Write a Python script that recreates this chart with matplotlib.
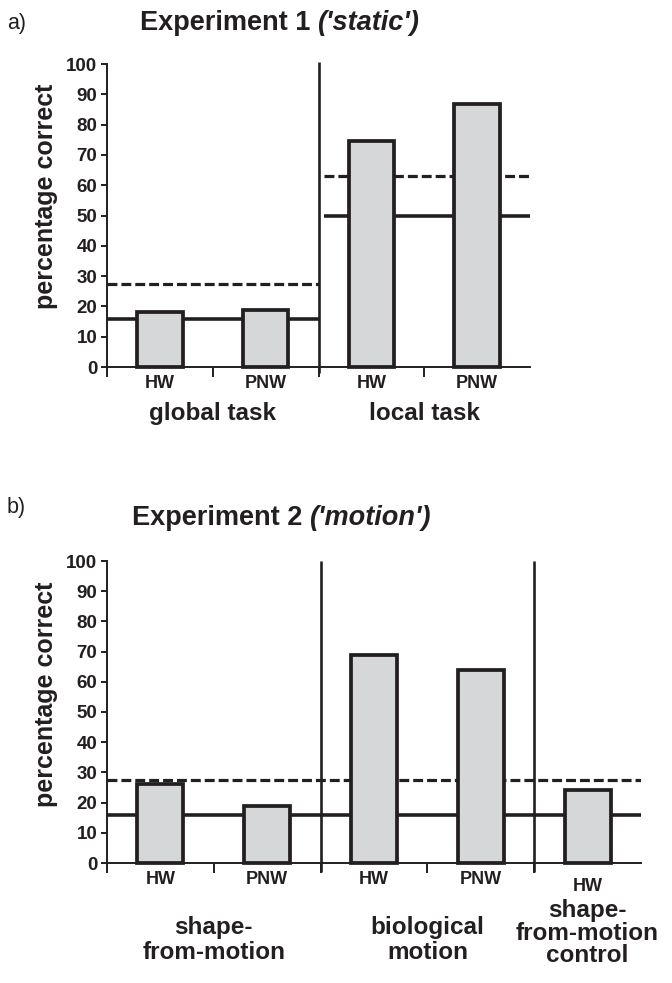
import matplotlib
matplotlib.use("Agg")
import matplotlib.pyplot as plt
import matplotlib.transforms as mtransforms

plt.rcParams['font.family'] = ['Liberation Sans', 'DejaVu Sans']

# Experiment 1 ('static')
exp1_cats = ["HW", "PNW", "HW", "PNW"]
exp1_vals = [18.2, 18.7, 74.5, 86.8]
exp1_groups = ["global task", "local task"]
exp1_group_sizes = [2, 2]
exp1_chance = [16, 50]
exp1_signif = [27.5, 63]

# Experiment 2 ('motion')
exp2_cats = ["HW", "PNW", "HW", "PNW", "HW"]
exp2_vals = [26.2, 19.0, 69.0, 63.8, 24.2]
exp2_groups = ["shape-\nfrom-motion", "biological\nmotion", "shape-\nfrom-motion\ncontrol"]
exp2_group_sizes = [2, 2, 1]
exp2_chance = 16
exp2_signif = 27.5

yticks = list(range(0, 101, 10))

INK = "#231f20"
FILL = "#d5d7d9"
BAR_W = 0.43

W, H = 672, 983
fig = plt.figure(figsize=(W / 100, H / 100), dpi=100)


def px_axes(left, top, right, bottom):
    return fig.add_axes([left / W, 1 - bottom / H, (right - left) / W, (bottom - top) / H])


def base_axes(ax, ncat):
    ax.set_xlim(0, ncat)
    ax.set_ylim(0, 100)
    for s in ["top", "right"]:
        ax.spines[s].set_visible(False)
    for s in ["left", "bottom"]:
        ax.spines[s].set_linewidth(1.4)
        ax.spines[s].set_color(INK)
    ax.set_yticks(yticks)
    ax.set_yticklabels([str(t) for t in yticks], fontsize=13.5, fontweight="bold", color=INK)
    ax.tick_params(axis="y", length=4, width=1.4, color=INK, pad=3)
    ax.set_xticks(range(ncat))
    ax.set_xticklabels([])
    ax.tick_params(axis="x", length=7, width=1.4, color=INK, direction="out")
    ax.patch.set_alpha(0)


def draw_bars(ax, vals):
    xs = [i + 0.5 for i in range(len(vals))]
    ax.bar(xs, vals, width=BAR_W, color=FILL, edgecolor=INK, linewidth=2.7, zorder=3,
           clip_on=False)
    return xs


def solid(ax, y, x0, x1):
    ax.hlines(y, x0, x1, colors=INK, linewidth=2.6, zorder=2)


def dashed(ax, y, x0, x1):
    ax.hlines(y, x0, x1, colors=INK, linewidth=2.3, linestyles=(0, (3.1, 1.25)), zorder=2)


# ---------------- panel a ----------------
ax1 = px_axes(107, 64, 530, 367)
base_axes(ax1, len(exp1_cats))
xs1 = draw_bars(ax1, exp1_vals)
start = 0
for g, n in enumerate(exp1_group_sizes):
    x0 = start + (0.05 if start > 0 else 0)
    solid(ax1, exp1_chance[g], x0, start + n)
    dashed(ax1, exp1_signif[g], x0, start + n)
    start += n
ax1.vlines(2, -2, 100.5, colors=INK, linewidth=1.9, zorder=4, clip_on=False)

tr1 = mtransforms.blended_transform_factory(ax1.transData, ax1.transAxes)
for x, lab in zip(xs1, exp1_cats):
    ax1.text(x, -0.053, lab, transform=tr1, ha="center", va="center",
             fontsize=13, fontweight="bold", color=INK)
start = 0
for lab, n in zip(exp1_groups, exp1_group_sizes):
    ax1.text(start + n / 2, -0.152, lab, transform=tr1, ha="center", va="center",
             fontsize=17.5, fontweight="bold", color=INK)
    start += n

# ---------------- panel b ----------------
ax2 = px_axes(107, 561, 641, 863)
base_axes(ax2, len(exp2_cats))
xs2 = draw_bars(ax2, exp2_vals)
solid(ax2, exp2_chance, 0, len(exp2_cats))
dashed(ax2, exp2_signif, 0, len(exp2_cats))
for xd in [2, 4]:
    ax2.vlines(xd, -3, 100, colors=INK, linewidth=1.9, zorder=4, clip_on=False)

tr2 = mtransforms.blended_transform_factory(ax2.transData, ax2.transAxes)
for i, (x, lab) in enumerate(zip(xs2, exp2_cats)):
    yy = -0.079 if i == len(exp2_cats) - 1 else -0.056
    ax2.text(x, yy, lab, transform=tr2, ha="center", va="center",
             fontsize=13, fontweight="bold", color=INK)
start = 0
for g, (lab, n) in enumerate(zip(exp2_groups, exp2_group_sizes)):
    last = g == len(exp2_groups) - 1
    ax2.text(start + n / 2, -0.232 if last else -0.255, lab, transform=tr2,
             ha="center", va="center", fontsize=17.5, fontweight="bold", color=INK,
             linespacing=0.95 if last else 1.15, multialignment="center")
    start += n

# ---------------- titles, labels ----------------
for yc in [196, 694]:
    fig.text(46 / W, 1 - yc / H, "percentage correct", rotation=90, ha="center", va="center",
             fontsize=18, fontweight="bold", color=INK)

fig.text(7 / W, 1 - 24 / H, "a)", fontsize=15.5, color=INK, ha="left", va="center")
fig.text(7 / W, 1 - 507 / H, "b)", fontsize=15.5, color=INK, ha="left", va="center")

for x0, yc, main, ital in [(140, 23, "Experiment 1", "('static')"),
                           (132, 518, "Experiment 2", "('motion')")]:
    t = fig.text(x0 / W, 1 - yc / H, main, fontsize=19.5, fontweight="bold", color=INK,
                 ha="left", va="center")
    ax1.annotate(ital, xy=(1, 0.5), xycoords=t, xytext=(5, 0), textcoords="offset points",
                 ha="left", va="center", fontsize=19.5, fontweight="bold", style="italic",
                 color=INK, annotation_clip=False)

fig.savefig("out.png", dpi=100)
